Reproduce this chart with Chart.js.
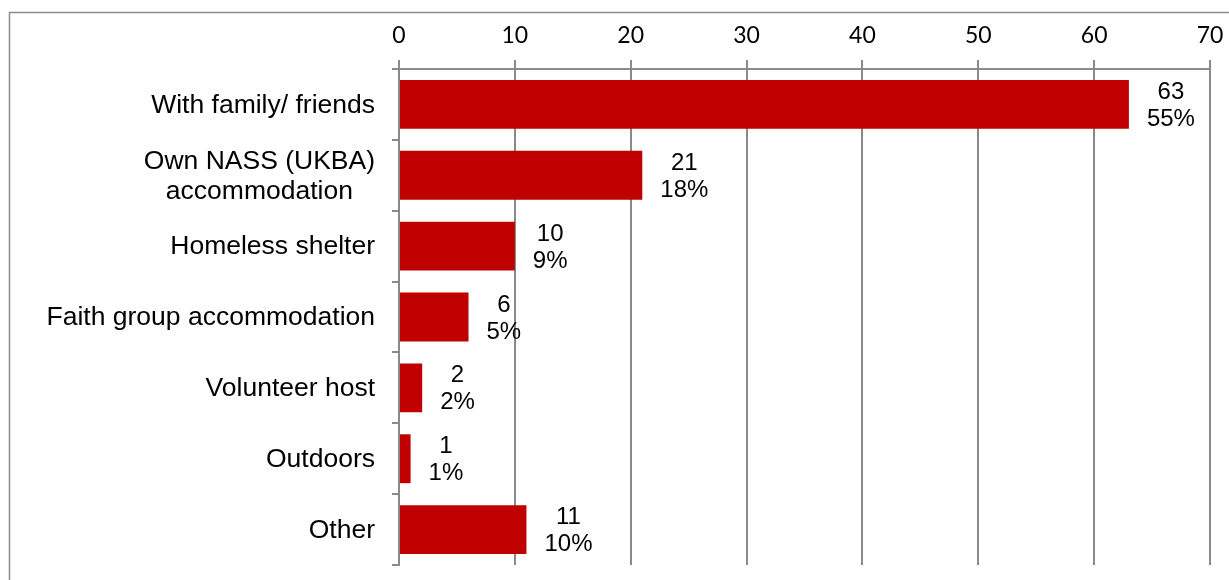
<!DOCTYPE html>
<html>
<head>
<meta charset="utf-8">
<script src="https://cdn.jsdelivr.net/npm/chart.js@4.4.1/dist/chart.umd.min.js"></script>
<style>
  html, body { margin: 0; padding: 0; background: #fff; overflow: hidden; }
</style>
</head>
<body>
<canvas id="chart" width="1229" height="580"></canvas>
<script>
const categories = [
    ['With family/ friends'],
    ['Own NASS (UKBA)', 'accommodation'],
    ['Homeless shelter'],
    ['Faith group accommodation'],
    ['Volunteer host'],
    ['Outdoors'],
    ['Other']
];
const counts = [63, 21, 10, 6, 2, 1, 11];
const shares = ['55%', '18%', '9%', '5%', '2%', '1%', '10%'];
const xMin = 0, xMax = 70, xStep = 10;

const gridGray = '#8a8a8a';

// grey frame around the whole chart (cut off at right and bottom)
const framePlugin = {
    id: 'frame',
    beforeDraw(chart) {
        const ctx = chart.ctx;
        ctx.save();
        ctx.fillStyle = '#fff';
        ctx.fillRect(0, 0, chart.width, chart.height);
        ctx.strokeStyle = '#8c8c8c';
        ctx.lineWidth = 1.5;
        ctx.strokeRect(9.5, 12.5, 1400, 800);
        ctx.restore();
    }
};

// category labels, multi-line ones centred on each other
const catLabelPlugin = {
    id: 'catLabels',
    afterDraw(chart) {
        const ctx = chart.ctx;
        const yScale = chart.scales.y;
        const right = yScale.right - 24;
        const lh = 30;
        ctx.save();
        ctx.font = '26.5px "Liberation Sans", Arial, sans-serif';
        ctx.fillStyle = '#000';
        ctx.textAlign = 'center';
        ctx.textBaseline = 'middle';
        categories.forEach((lines, i) => {
            const y = yScale.getPixelForValue(i);
            const w = Math.max(...lines.map(l => ctx.measureText(l).width));
            const cx = right - w / 2;
            const y0 = y - (lines.length - 1) * lh / 2;
            lines.forEach((l, j) => ctx.fillText(l, cx, y0 + j * lh + 1));
        });
        ctx.restore();
    }
};

// value + percentage labels to the right of each bar
const valueLabelPlugin = {
    id: 'valueLabels',
    afterDatasetsDraw(chart) {
        const ctx = chart.ctx;
        const meta = chart.getDatasetMeta(0);
        ctx.save();
        ctx.font = '24px "Liberation Sans", Arial, sans-serif';
        ctx.fillStyle = '#000';
        ctx.textAlign = 'center';
        ctx.textBaseline = 'middle';
        meta.data.forEach((bar, i) => {
            const a = String(counts[i]), b = shares[i];
            const w = Math.max(ctx.measureText(a).width, ctx.measureText(b).width);
            const cx = bar.x + 18 + w / 2;
            ctx.fillText(a, cx, bar.y - 12);
            ctx.fillText(b, cx, bar.y + 15);
        });
        ctx.restore();
    }
};

new Chart(document.getElementById('chart').getContext('2d'), {
    type: 'bar',
    data: {
        labels: categories.map(c => c.join(' ')),
        datasets: [{
            data: counts,
            backgroundColor: '#C00000',
            borderWidth: 0,
            categoryPercentage: 0.69,
            barPercentage: 1
        }]
    },
    options: {
        indexAxis: 'y',
        responsive: false,
        animation: false,
        layout: { padding: { left: 0, top: 0, right: 19, bottom: 15 } },
        plugins: {
            legend: { display: false },
            tooltip: { enabled: false }
        },
        scales: {
            x: {
                position: 'top',
                min: xMin,
                max: xMax,
                ticks: {
                    stepSize: xStep,
                    color: '#000',
                    padding: 11,
                    font: { family: 'Lato, "Open Sans", sans-serif', size: 23 }
                },
                grid: { color: gridGray, lineWidth: 2, tickLength: 9, drawTicks: true },
                border: { color: gridGray, width: 2 },
                afterFit(scale) {
                    scale.height = 69;
                    // keep the last tick label from pulling the plot edge in
                    scale.paddingRight = 0;
                    scale.paddingLeft = 0;
                }
            },
            y: {
                ticks: { display: false },
                grid: { drawOnChartArea: false, color: gridGray, lineWidth: 2, tickLength: 7 },
                border: { color: gridGray, width: 2 },
                afterFit(scale) { scale.width = 399; }
            }
        }
    },
    plugins: [framePlugin, catLabelPlugin, valueLabelPlugin]
});
</script>
</body>
</html>
